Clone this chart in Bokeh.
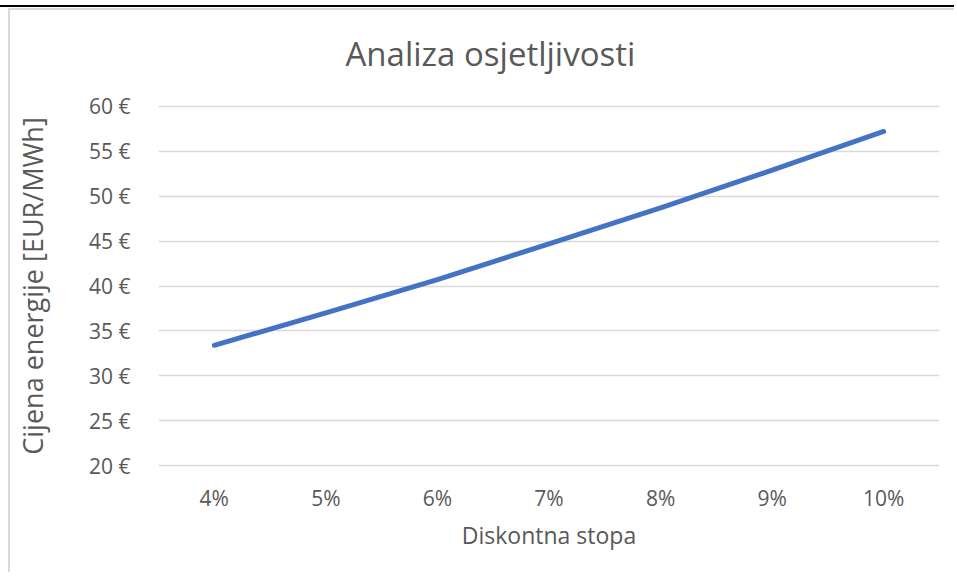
from bokeh.plotting import figure
from bokeh.models import FactorRange, Range1d, FixedTicker, PrintfTickFormatter
from bokeh.embed import file_html
from bokeh.resources import INLINE

rates = ["4%", "5%", "6%", "7%", "8%", "9%", "10%"]
prices = [33.4, 37.0, 40.7, 44.7, 48.7, 52.9, 57.2]
y_ticks = [20, 25, 30, 35, 40, 45, 50, 55, 60]

FONT = "Open Sans"
TXT = "#595959"

p = figure(width=954, height=572, output_backend="svg", toolbar_location=None,
           x_range=FactorRange(*rates), y_range=Range1d(19.8, 60.2),
           min_border_left=158, min_border_right=15, min_border_top=104, min_border_bottom=105)

p.line(x=rates, y=prices, line_color="#4472C4", line_width=5, line_cap="round", line_join="round")

p.title.text = "Analiza osjetljivosti"
p.title.align = "left"
p.title.text_font = FONT
p.title.text_font_size = "33px"
p.title.text_font_style = "normal"
p.title.text_color = TXT
p.title.standoff = 57
p.title.offset = 187

p.outline_line_color = None
p.border_fill_color = None
p.styles = {
    "background-color": "white",
    "background-image": "linear-gradient(#000,#000), linear-gradient(#d9d9d9,#d9d9d9), linear-gradient(#d9d9d9,#d9d9d9)",
    "background-size": "100% 2px, 100% 2px, 2px 100%",
    "background-position": "0px 5px, 9px 8px, 8px 8px",
    "background-repeat": "no-repeat",
}
p.xgrid.grid_line_color = None
p.ygrid.grid_line_color = "#d9d9d9"
p.ygrid.grid_line_width = 1.6

p.yaxis.ticker = FixedTicker(ticks=y_ticks)
p.yaxis.formatter = PrintfTickFormatter(format="%d €")
for ax in (p.xaxis, p.yaxis):
    ax.axis_line_color = None
    ax.major_tick_line_color = None
    ax.minor_tick_line_color = None
    ax.major_label_text_font = FONT
    ax.major_label_text_font_size = "21px"
    ax.major_label_text_color = TXT
    ax.axis_label_text_font = FONT
    ax.axis_label_text_font_style = "normal"
    ax.axis_label_text_color = TXT

p.xaxis.axis_label_text_font_size = "23px"
p.yaxis.axis_label_text_font_size = "27px"
p.yaxis.major_label_standoff = 22
p.xaxis.major_label_standoff = 10
p.yaxis.axis_label = "Cijena energije [EUR/MWh]"
p.xaxis.axis_label = "Diskontna stopa"
p.yaxis.axis_label_standoff = 35
p.xaxis.axis_label_standoff = 4

open("out.html", "w").write(file_html(p, INLINE))
